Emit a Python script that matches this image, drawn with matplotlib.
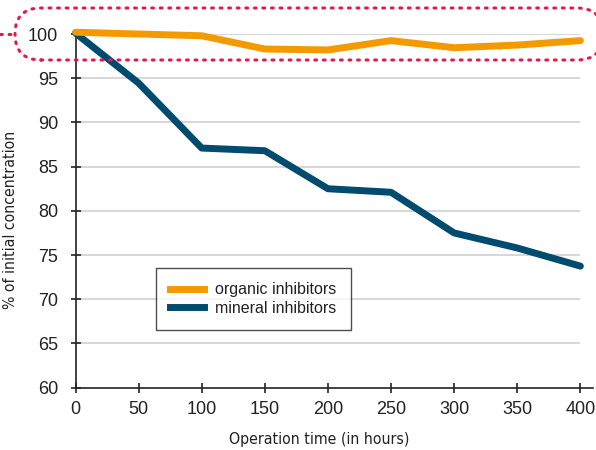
import matplotlib
matplotlib.use("Agg")
import matplotlib.pyplot as plt
from matplotlib.patches import FancyBboxPatch
from matplotlib.lines import Line2D
from matplotlib.transforms import IdentityTransform

hours = [0, 50, 100, 150, 200, 250, 300, 350, 400]
organic = [100.2, 100.0, 99.8, 98.3, 98.2, 99.25, 98.45, 98.75, 99.25]
mineral = [100.1, 94.45, 87.1, 86.8, 82.5, 82.1, 77.5, 75.8, 73.75]
y_ticks = [60, 65, 70, 75, 80, 85, 90, 95, 100]

ORANGE = "#F39A00"
BLUE = "#004B6E"
RED = "#E5174B"

plt.rcParams["font.family"] = ["Liberation Sans", "DejaVu Sans"]
label_font = dict(family="DejaVu Sans", stretch="condensed", fontsize=11.3, color="#222222")

fig = plt.figure(figsize=(5.96, 4.5), dpi=100)
ax = fig.add_axes([75.5 / 596, 1 - 387.7 / 450, (593 - 75.5) / 596, (387.7 - 34) / 450])

ax.hlines(y_ticks[1:], 0, 400, color="#d0d0d0", lw=1.2, zorder=0)

ax.plot(hours, mineral, color=BLUE, lw=5, solid_capstyle="round",
        solid_joinstyle="round", clip_on=False, zorder=3)
ax.plot(hours, organic, color=ORANGE, lw=5, solid_capstyle="round",
        solid_joinstyle="round", clip_on=False, zorder=4)

ax.set_xlim(0, 410)
ax.set_ylim(60, 100)
ax.set_xticks(hours)
ax.set_yticks(y_ticks)
for s in ["top", "right"]:
    ax.spines[s].set_visible(False)
for s in ["left", "bottom"]:
    ax.spines[s].set_color("#222222")
    ax.spines[s].set_linewidth(1.2)
ax.tick_params(direction="inout", length=7, width=1.2, color="#222222",
               labelsize=13, labelcolor="#222222")
ax.tick_params(axis="y", pad=9)
ax.tick_params(axis="x", pad=6)

ax.set_xlabel("Operation time (in hours)", **label_font)
ax.set_ylabel("% of initial concentration", **label_font)
ax.xaxis.set_label_coords(0.4715, -0.124)
ax.yaxis.set_label_coords(-0.111, 0.474)

handles = [Line2D([], [], color=ORANGE, lw=5), Line2D([], [], color=BLUE, lw=5)]
leg = ax.legend(handles, ["organic inhibitors", "mineral inhibitors"],
                loc="upper left", bbox_to_anchor=((156 - 75.5) / 517.5, 1 - (268 - 34) / 353.7),
                fontsize=11.5, frameon=True, fancybox=False, handlelength=2.1,
                borderpad=0.9, borderaxespad=0, labelspacing=0.2, handletextpad=0.7)
leg.get_frame().set_edgecolor("#222222")
leg.get_frame().set_linewidth(1.0)
for t in leg.get_texts():
    t.set_color("#222222")

# dotted highlight around the 100% band (pixel coordinates)
box = FancyBboxPatch((15, 450 - 60), 588, 52, boxstyle="round,pad=0,rounding_size=26",
                     transform=IdentityTransform(), fill=False, edgecolor=RED,
                     linestyle=(0, (0.6, 2.2)), lw=2.2)
box.set_capstyle("round")
fig.patches.append(box)
fig.lines.append(Line2D([0, 15], [416, 416], transform=IdentityTransform(),
                        color=RED, lw=2.2, linestyle=(0, (0.6, 2.2)),
                        dash_capstyle="round"))

fig.savefig("out.png", dpi=100)
